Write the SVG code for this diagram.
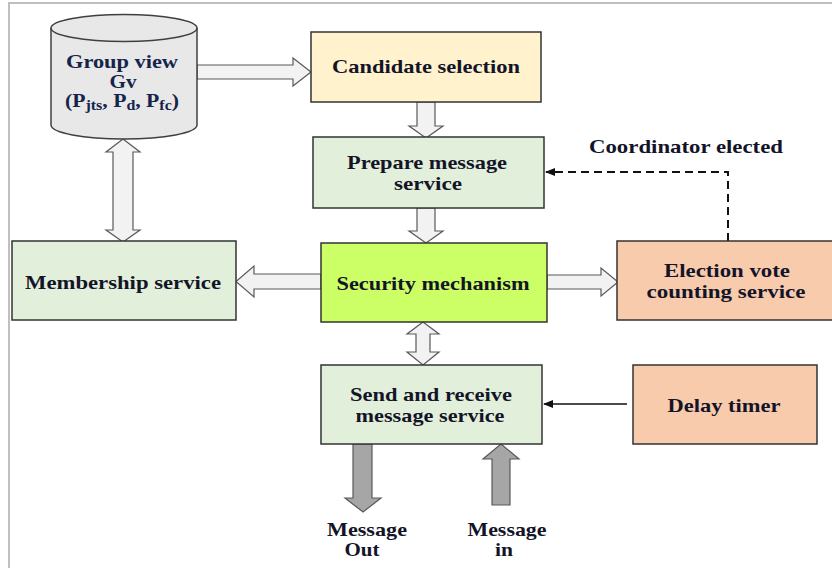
<svg xmlns="http://www.w3.org/2000/svg" width="832" height="568" viewBox="0 0 832 568">
<defs>
<style>
.box{stroke:#333;stroke-width:1.5}
.blk{fill:#f2f2f2;stroke:#595959;stroke-width:1.2}
.dark{fill:#a6a6a6;stroke:#595959;stroke-width:1.2}
.t{font-family:"Liberation Serif","Times New Roman",serif;font-weight:bold;font-size:19px;fill:#141428;text-anchor:middle}
.cyl{fill:#16244a}
</style>
<marker id="ah" markerWidth="10" markerHeight="8" refX="9" refY="4" orient="auto" markerUnits="userSpaceOnUse">
<path d="M0,0 L10,4 L0,8 Z" fill="#111"/>
</marker>
</defs>
<rect width="832" height="568" fill="#fff"/>
<path d="M9,568 V3 H832" fill="none" stroke="#c0c0c0" stroke-width="2"/>

<g id="connectors">
<path class="blk" d="M197,65 H293 V58 L311,72 L293,86 V79 H197 Z"/>
<path class="blk" d="M417,102 V126 H409 L426,138 L443,126 H435 V102 Z"/>
<path class="blk" d="M417,208 V231 H409 L426,243 L443,231 H435 V208 Z"/>
<path class="blk" d="M321,274 H254 V266 L236,281.5 L254,297 V289 H321 Z"/>
<path class="blk" d="M547,275 H601 V268 L618,282 L601,296 V289 H547 Z"/>
<path class="blk" d="M423,322 L439,334 H430 V352 H439 L423,365 L407,352 H416 V334 H407 Z"/>
<path class="blk" d="M123,139 L140,152 H133 V230 H140 L123,242 L106,230 H113 V152 H106 Z"/>
<path class="dark" d="M353,444 V498 H345 L363,512 L381,498 H372 V444 Z"/>
<path class="dark" d="M492,505 V459 H483 L501,444 L519,459 H510 V505 Z"/>
<path d="M728,241 V172 H546" fill="none" stroke="#111" stroke-width="2" stroke-dasharray="8,5" marker-end="url(#ah)"/>
<line x1="627" y1="404" x2="544" y2="404" stroke="#111" stroke-width="1.5" marker-end="url(#ah)"/>
<text class="t" x="686" y="153" textLength="194" lengthAdjust="spacingAndGlyphs">Coordinator elected</text>
<text class="t" x="367" y="536" textLength="80" lengthAdjust="spacingAndGlyphs">Message</text>
<text class="t" x="362" y="556" textLength="35" lengthAdjust="spacingAndGlyphs">Out</text>
<text class="t" x="507" y="536" textLength="79" lengthAdjust="spacingAndGlyphs">Message</text>
<text class="t" x="504" y="556" textLength="18" lengthAdjust="spacingAndGlyphs">in</text>
</g>

<g id="groupview">
<path d="M51,28 V125 A73,14 0 0 0 197,125 V28 A73,13.5 0 0 0 51,28 Z" fill="#e8e8e8" stroke="#404040" stroke-width="1.5"/>
<path d="M51,28 A73,13.5 0 0 0 197,28" fill="none" stroke="#404040" stroke-width="1.5"/>
<text class="t cyl" x="122" y="68" textLength="112" lengthAdjust="spacingAndGlyphs">Group view</text>
<text class="t cyl" x="123" y="88" textLength="27" lengthAdjust="spacingAndGlyphs">Gv</text>
<text class="t cyl" x="122" y="107" textLength="114" lengthAdjust="spacingAndGlyphs">(P<tspan font-size="14" dy="3">jts</tspan><tspan dy="-3">, P</tspan><tspan font-size="14" dy="3">d</tspan><tspan dy="-3">, P</tspan><tspan font-size="14" dy="3">fc</tspan><tspan dy="-3">)</tspan></text>
</g>

<g id="candidate">
<rect class="box" x="311" y="32" width="230" height="70" fill="#fff2cc"/>
<text class="t" x="426" y="73" textLength="188" lengthAdjust="spacingAndGlyphs">Candidate selection</text>
</g>

<g id="prepare">
<rect class="box" x="313" y="137" width="231" height="71" fill="#e2efda"/>
<text class="t" x="427" y="169" textLength="160" lengthAdjust="spacingAndGlyphs">Prepare message</text>
<text class="t" x="428" y="190" textLength="68" lengthAdjust="spacingAndGlyphs">service</text>
</g>

<g id="security">
<rect class="box" x="321" y="243" width="226" height="79" fill="#ccff66"/>
<text class="t" x="433" y="290" textLength="193" lengthAdjust="spacingAndGlyphs">Security mechanism</text>
</g>

<g id="membership">
<rect class="box" x="12" y="241" width="224" height="79" fill="#e2efda"/>
<text class="t" x="123" y="289" textLength="196" lengthAdjust="spacingAndGlyphs">Membership service</text>
</g>

<g id="election">
<rect class="box" x="617" y="241" width="216" height="79" fill="#f8cbad"/>
<text class="t" x="727" y="277" textLength="126" lengthAdjust="spacingAndGlyphs">Election vote</text>
<text class="t" x="726" y="298" textLength="159" lengthAdjust="spacingAndGlyphs">counting service</text>
</g>

<g id="sendreceive">
<rect class="box" x="321" y="365" width="221" height="79" fill="#e2efda"/>
<text class="t" x="431" y="401" textLength="162" lengthAdjust="spacingAndGlyphs">Send and receive</text>
<text class="t" x="430" y="422" textLength="149" lengthAdjust="spacingAndGlyphs">message service</text>
</g>

<g id="delay">
<rect class="box" x="633" y="365" width="184" height="79" fill="#f8cbad"/>
<text class="t" x="724" y="412" textLength="113" lengthAdjust="spacingAndGlyphs">Delay timer</text>
</g>
</svg>
